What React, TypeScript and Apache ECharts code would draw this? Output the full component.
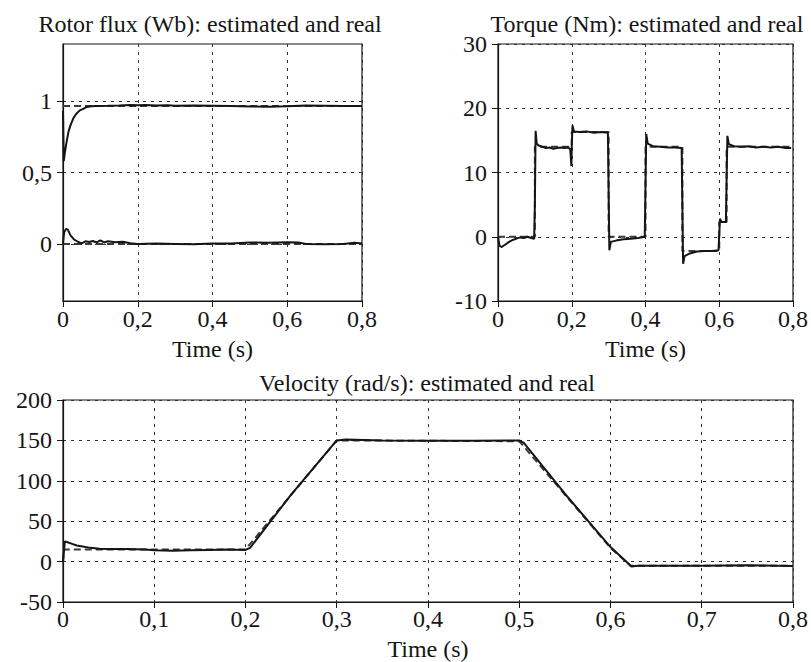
import React, { useEffect, useRef } from 'react';
import * as echarts from 'echarts';

// ---- Data ----
const fluxTitle = 'Rotor flux (Wb): estimated and real';
const torqueTitle = 'Torque (Nm): estimated and real';
const velocityTitle = 'Velocity (rad/s): estimated and real';
const timeLabel = 'Time (s)';

const fluxTicks = [0, 0.5, 1];

// rotor flux, d-axis (upper) estimated
const fluxUpperEst: [number, number][] = [
  [0, 0.93], [0.002, 0.58], [0.005, 0.64], [0.01, 0.72], [0.015, 0.79], [0.02, 0.83],
  [0.027, 0.876], [0.035, 0.91], [0.045, 0.935], [0.054, 0.946], [0.063, 0.958],
  [0.071, 0.962], [0.085, 0.965], [0.1, 0.966], [0.12, 0.967], [0.15, 0.969],
  [0.18, 0.972], [0.2, 0.971], [0.22, 0.973], [0.25, 0.969], [0.28, 0.971],
  [0.3, 0.968], [0.35, 0.97], [0.4, 0.968], [0.45, 0.966], [0.5, 0.962],
  [0.55, 0.961], [0.6, 0.964], [0.65, 0.969], [0.7, 0.967], [0.75, 0.965], [0.8, 0.966],
];
const fluxUpperRef: [number, number][] = [[0, 0.965], [0.8, 0.965]];

// rotor flux, q-axis (lower) estimated
const fluxLowerEst: [number, number][] = [
  [0, 0], [0.003, 0.08], [0.008, 0.105], [0.013, 0.1], [0.02, 0.06], [0.03, 0.03],
  [0.04, 0.015], [0.05, 0.004], [0.06, 0.018], [0.07, 0.013], [0.08, 0.02],
  [0.09, 0.01], [0.1, 0.025], [0.11, 0.01], [0.12, 0.018], [0.14, 0.011],
  [0.16, 0.015], [0.18, 0.005], [0.2, 0.0], [0.25, 0.002], [0.3, 0.0],
  [0.35, -0.002], [0.4, 0.003], [0.45, 0.002], [0.5, 0.01], [0.55, 0.008],
  [0.6, 0.012], [0.63, 0.01], [0.65, 0.0], [0.7, -0.003], [0.75, 0.0],
  [0.78, 0.008], [0.8, 0.002],
];
const fluxLowerRef: [number, number][] = [[0, 0], [0.8, 0]];

// electromagnetic torque
const torqueEst: [number, number][] = [
  [0, 0], [0.004, -1.4], [0.01, -1.6], [0.02, -1.2], [0.03, -0.8], [0.04, -0.5],
  [0.05, -0.3], [0.06, -0.1], [0.07, -0.2], [0.08, 0], [0.09, -0.2], [0.098, -0.3],
  [0.1, 5], [0.102, 16.5], [0.105, 14.5], [0.11, 14.2], [0.12, 14.0], [0.13, 13.8],
  [0.14, 13.9], [0.15, 13.7], [0.16, 13.8], [0.17, 13.9], [0.18, 13.8], [0.19, 13.9],
  [0.196, 13.6], [0.199, 11.0], [0.2, 14], [0.202, 17.3], [0.206, 16.4], [0.22, 16.3],
  [0.24, 16.4], [0.26, 16.2], [0.28, 16.3], [0.298, 16.2], [0.302, -2.1],
  [0.306, -0.8], [0.32, -0.6], [0.34, -0.4], [0.36, -0.3], [0.38, -0.2], [0.398, 0],
  [0.402, 16.0], [0.406, 14.5], [0.42, 14.1], [0.44, 14.0], [0.46, 13.9], [0.48, 13.9],
  [0.498, 13.8], [0.502, -4.2], [0.506, -3.0], [0.52, -2.6], [0.54, -2.3], [0.56, -2.2],
  [0.58, -2.2], [0.598, -2.1], [0.602, 2.8], [0.606, 2.3], [0.618, 2.3], [0.622, 15.7],
  [0.626, 14.4], [0.64, 14.1], [0.66, 14.0], [0.68, 14.1], [0.7, 13.9], [0.72, 14.0],
  [0.74, 13.9], [0.76, 14.0], [0.78, 13.8], [0.795, 13.8],
];
const torqueRef: [number, number][] = [
  [0, 0], [0.1, 0], [0.1, 14], [0.2, 14], [0.2, 16.3], [0.3, 16.3], [0.3, 0],
  [0.4, 0], [0.4, 14], [0.5, 14], [0.5, -2.2], [0.6, -2.2], [0.6, 2.3], [0.62, 2.3],
  [0.62, 14], [0.795, 14],
];

// rotor velocity
const velocityEst: [number, number][] = [
  [0, 0], [0.002, 25], [0.005, 24], [0.01, 22], [0.015, 20], [0.02, 19], [0.03, 17],
  [0.04, 16], [0.05, 15.5], [0.07, 15.5], [0.09, 15], [0.1, 14], [0.12, 13.5],
  [0.14, 14], [0.16, 14.5], [0.18, 15], [0.2, 14.5], [0.205, 17], [0.25, 83],
  [0.3, 150], [0.31, 151], [0.35, 150], [0.4, 149.5], [0.45, 149.5], [0.5, 150],
  [0.505, 147], [0.55, 84], [0.6, 18], [0.623, -6], [0.63, -5], [0.7, -5],
  [0.75, -4.5], [0.8, -5.5],
];
const velocityRef: [number, number][] = [
  [0, 0], [0.001, 15], [0.2, 15], [0.3, 150], [0.5, 149], [0.6, 17], [0.622, -5], [0.8, -5],
];

// ---- Chart ----
const FONT = 'Liberation Serif';
const INK = '#151515';
const comma = (v: number) => String(Number(v.toFixed(3))).replace('.', ',');

const gridDots = { show: true, lineStyle: { color: '#333', type: [3, 5] as any, width: 1 } };
const axisLine = { show: true, onZero: false, lineStyle: { color: INK, width: 1.2 } };

function xAxisFor(gridIndex: number, interval: number, gap: number, labelMargin: number) {
  return {
    type: 'value', gridIndex, min: 0, max: 0.8, interval,
    name: timeLabel, nameLocation: 'middle', nameGap: gap,
    nameTextStyle: { fontFamily: FONT, fontSize: 24, color: INK },
    axisLine, axisTick: { show: true, inside: false, length: 6, lineStyle: { color: INK } },
    axisLabel: { fontFamily: FONT, fontSize: 24, color: INK, margin: labelMargin, formatter: comma, showMinLabel: true, showMaxLabel: true },
    splitLine: gridDots,
  };
}

function estSeries(x: number, data: [number, number][]) {
  return {
    type: 'line', xAxisIndex: x, yAxisIndex: x, data, showSymbol: false, symbol: 'none',
    lineStyle: { color: INK, width: 2 }, z: 3, silent: true,
  };
}
function refSeries(x: number, data: [number, number][]) {
  return {
    type: 'line', xAxisIndex: x, yAxisIndex: x, data, showSymbol: false, symbol: 'none',
    lineStyle: { color: '#3a3a3a', width: 2, type: [7, 4] as any }, z: 2, silent: true,
  };
}

const titleStyle = { fontFamily: FONT, fontSize: 24, fontWeight: 'normal' as const, color: INK };

const option: any = {
  animation: false,
  backgroundColor: '#fff',
  textStyle: { fontFamily: FONT },
  title: [
    { text: fluxTitle, left: 205, top: 7, textAlign: 'center', textStyle: titleStyle },
    { text: torqueTitle, left: 642, top: 7, textAlign: 'center', textStyle: titleStyle },
    { text: velocityTitle, left: 422, top: 366, textAlign: 'center', textStyle: titleStyle },
  ],
  grid: [
    { left: 63, top: 44, width: 299, height: 257, show: true, borderColor: INK, borderWidth: 1.2, backgroundColor: 'transparent' },
    { left: 498, top: 44, width: 298, height: 257, show: true, borderColor: INK, borderWidth: 1.2, backgroundColor: 'transparent' },
    { left: 63, top: 400, width: 734, height: 204, show: true, borderColor: INK, borderWidth: 1.2, backgroundColor: 'transparent' },
  ],
  xAxis: [
    xAxisFor(0, 0.2, 36, 6),
    xAxisFor(1, 0.2, 36, 6),
    xAxisFor(2, 0.1, 35, 5),
  ],
  yAxis: [
    {
      type: 'value', gridIndex: 0, min: -0.4, max: 1.4,
      axisLine, axisTick: { show: true, length: 6, customValues: fluxTicks, lineStyle: { color: INK } },
      axisLabel: { fontFamily: FONT, fontSize: 24, color: INK, margin: 11, customValues: fluxTicks, formatter: comma },
      splitLine: gridDots,
    },
    {
      type: 'value', gridIndex: 1, min: -10, max: 30, interval: 10,
      axisLine, axisTick: { show: true, length: 6, lineStyle: { color: INK } },
      axisLabel: { fontFamily: FONT, fontSize: 24, color: INK, margin: 11, formatter: comma },
      splitLine: gridDots,
    },
    {
      type: 'value', gridIndex: 2, min: -50, max: 200, interval: 50,
      axisLine, axisTick: { show: true, length: 6, lineStyle: { color: INK } },
      axisLabel: { fontFamily: FONT, fontSize: 24, color: INK, margin: 11, formatter: comma },
      splitLine: gridDots,
    },
  ],
  series: [
    refSeries(0, fluxUpperRef),
    refSeries(0, fluxLowerRef),
    estSeries(0, fluxUpperEst),
    estSeries(0, fluxLowerEst),
    refSeries(1, torqueRef),
    estSeries(1, torqueEst),
    refSeries(2, velocityRef),
    estSeries(2, velocityEst),
  ],
};

export default function App() {
  const ref = useRef<HTMLDivElement>(null);
  useEffect(() => {
    if (!ref.current) return;
    const chart = echarts.init(ref.current, undefined, { renderer: 'svg' });
    chart.setOption(option);
    return () => chart.dispose();
  }, []);
  return (
    <div
      ref={ref}
      style={{ position: 'absolute', left: 0, top: 0, width: 811, height: 662, background: '#fff' }}
    />
  );
}
